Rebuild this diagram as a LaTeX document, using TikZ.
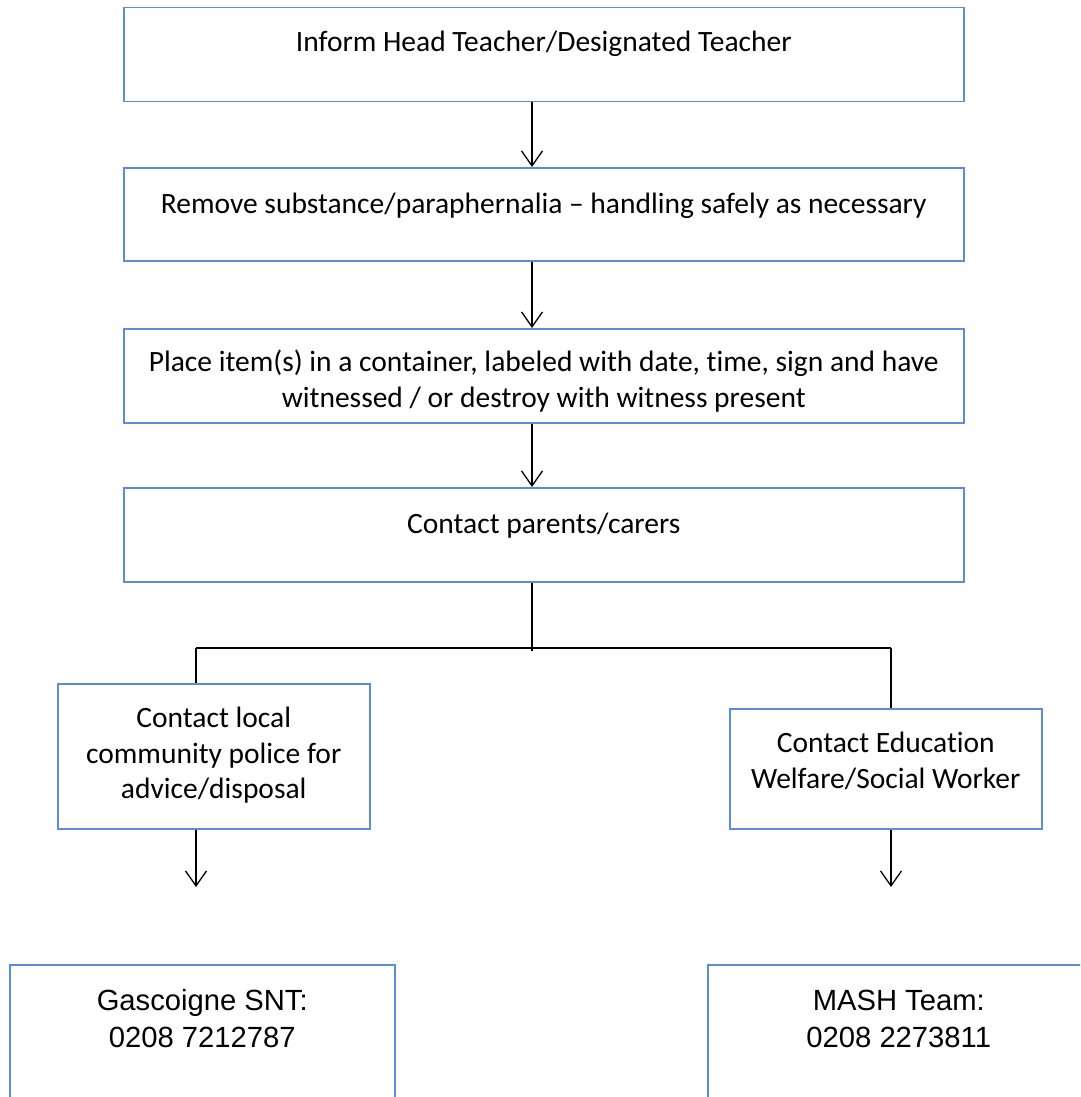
\documentclass[tikz,border=0pt]{standalone}
\usepackage{fontspec}
\setmainfont{Carlito}[Ligatures={TeX,NoCommon}]
\newfontfamily\arialfont{Liberation Sans}
\usetikzlibrary{arrows.meta}
\definecolor{boxblue}{RGB}{91,141,213}
\begin{document}
\begin{tikzpicture}[x=1pt,y=-1pt,
  box/.style={draw=boxblue, line width=1.5pt, rectangle, inner sep=0pt, anchor=north west},
  txt/.style={anchor=north, inner sep=0pt, align=center, font=\fontsize{29.5}{35.4}\selectfont},
  atxt/.style={anchor=north, inner sep=0pt, align=center, font=\arialfont\fontsize{29.2}{37}\selectfont},
  ln/.style={draw=black, line width=1.3pt},
  arr/.style={ln, -{Straight Barb[length=15pt,width=21pt,line width=1.3pt]}}]
\useasboundingbox (0,0) rectangle (1080,1097);
\clip (0,0) rectangle (1080,1097);
% boxes
\node[box, minimum width=840pt, minimum height=94pt] (b1) at (123,7) {};
\node[box, minimum width=840pt, minimum height=93pt] (b2) at (123,167) {};
\node[box, minimum width=840pt, minimum height=94pt] (b3) at (123,328) {};
\node[box, minimum width=840pt, minimum height=94pt] (b4) at (123,487) {};
\node[box, minimum width=312pt, minimum height=145pt] (b5) at (57,683) {};
\node[box, minimum width=312pt, minimum height=120pt] (b6) at (729,708) {};
\node[box, minimum width=385pt, minimum height=200pt] (b7) at (9,964) {};
\node[box, minimum width=382pt, minimum height=200pt] (b8) at (707,964) {};
% texts
\node[txt] (t1) at ([yshift=-20pt]b1.north) {\strut Inform Head Teacher/Designated Teacher};
\node[txt] (t2) at ([yshift=-21.5pt]b2.north) {\strut Remove substance/paraphernalia – handling safely as necessary};
\node[txt] (t3) at ([yshift=-19pt]b3.north) {\strut Place item(s) in a container, labeled with date, time, sign and have\\ witnessed / or destroy with witness present};
\node[txt] (t4) at ([yshift=-21.5pt]b4.north) {\strut Contact parents/carers};
\node[txt] (t5) at ([yshift=-20pt]b5.north) {\strut Contact local\\ community police for\\ advice/disposal};
\node[txt] (t6) at ([yshift=-20pt]b6.north) {\strut Contact Education\\ Welfare/Social Worker};
\node[atxt] (t7) at ([yshift=-20.5pt]b7.north) {\strut Gascoigne SNT:\\ 0208 7212787};
\node[atxt] (t8) at ([yshift=-20.5pt]b8.north) {\strut MASH Team:\\ 0208 2273811};
% connectors
\coordinate (mx) at (532,0);
\coordinate (jb) at (532,651);
\coordinate (lx) at (196,648);
\coordinate (rx) at (891,648);
\coordinate (le) at (196,887);
\coordinate (re) at (891,887);
\draw[arr] (b1.south -| mx) -- (b2.north -| mx);
\draw[arr] (b2.south -| mx) -- (b3.north -| mx);
\draw[arr] (b3.south -| mx) -- (b4.north -| mx);
\draw[ln] (b4.south -| mx) -- (jb);
\draw[ln] (lx) -- (rx);
\draw[ln] (lx) -- (b5.north -| lx);
\draw[ln] (rx) -- (b6.north -| rx);
\draw[arr] (b5.south -| le) -- (le);
\draw[arr] (b6.south -| re) -- (re);
\end{tikzpicture}
\end{document}
